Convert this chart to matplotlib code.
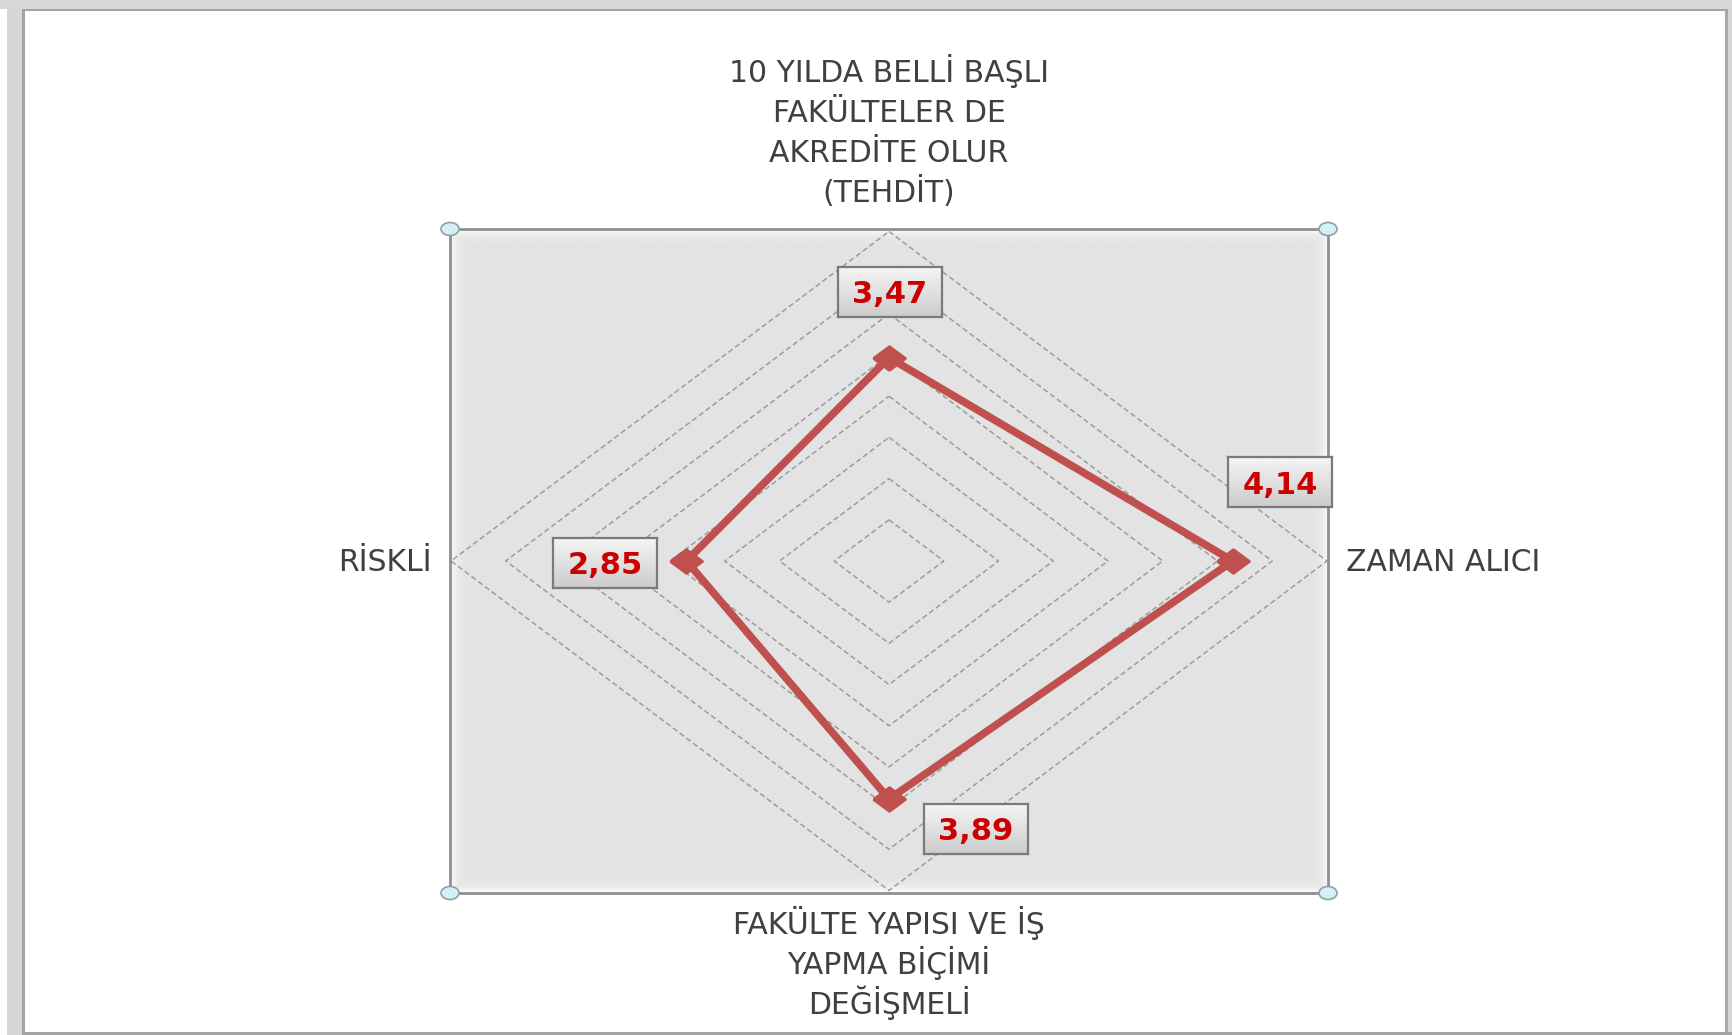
import numpy as np
import matplotlib
matplotlib.use("Agg")
import matplotlib.pyplot as plt
from matplotlib.patches import Rectangle, Ellipse

# chart data
categories = ["10 YILDA BELLİ BAŞLI\nFAKÜLTELER DE\nAKREDİTE OLUR\n(TEHDİT)",
              "ZAMAN ALICI",
              "FAKÜLTE YAPISI VE İŞ\nYAPMA BİÇİMİ\nDEĞİŞMELİ",
              "RİSKLİ"]
values = [3.47, 4.14, 3.89, 2.85]
value_labels = ["3,47", "4,14", "3,89", "2,85"]
r_min, r_max, r_step = 1.0, 5.0, 0.5

W, H = 1732, 1035
fig = plt.figure(figsize=(W / 100, H / 100), dpi=100)
fig.patch.set_facecolor("white")

def fx(x):
    return x / W

def fy(y):
    # y measured from the top of the image
    return 1 - y / H

# window frame around the chart object
fig.add_artist(Rectangle((fx(7), 0), fx(15), 1, transform=fig.transFigure,
                         facecolor="#d6d6d6", edgecolor="none", zorder=0))
fig.add_artist(Rectangle((fx(22), 0), fx(3), 1, transform=fig.transFigure,
                         facecolor="#a3a3a3", edgecolor="none", zorder=0))
fig.add_artist(Rectangle((0, fy(9)), 1, fy(0) - fy(9), transform=fig.transFigure,
                         facecolor="#d8d8d8", edgecolor="none", zorder=0))
fig.add_artist(Rectangle((fx(22), fy(11)), 1, fy(9) - fy(11), transform=fig.transFigure,
                         facecolor="#a3a3a3", edgecolor="none", zorder=0))
fig.add_artist(Rectangle((fx(1725), 0), fx(3), fy(9), transform=fig.transFigure,
                         facecolor="#a8a8a8", edgecolor="none", zorder=0))
fig.add_artist(Rectangle((fx(1728), 0), fx(4), fy(9), transform=fig.transFigure,
                         facecolor="#d6d6d6", edgecolor="none", zorder=0))
fig.add_artist(Rectangle((fx(22), 0), 1, fy(1032), transform=fig.transFigure,
                         facecolor="#a3a3a3", edgecolor="none", zorder=0))

# plot area
x0, y0, x1, y1 = 450, 229, 1328, 893
ax = fig.add_axes([fx(x0), fy(y1), fx(x1 - x0), fy(y0) - fy(y1)])
ax.set_facecolor("#e3e3e3")

# soft white glow along the plot area edges
pw, ph = x1 - x0, y1 - y0
gx = np.arange(pw)
gy = np.arange(ph)
dx = np.minimum(gx, pw - 1 - gx)[None, :]
dy = np.minimum(gy, ph - 1 - gy)[:, None]
d = np.minimum(dx, dy)
glow = 0.89 + 0.11 * np.exp(-d / 5.0)
ax.imshow(glow, cmap="gray", vmin=0, vmax=1, extent=[0, 1, 0, 1],
          transform=ax.transAxes, aspect="auto", zorder=0, interpolation="bilinear")

span = r_max - r_min
ax.set_xlim(-span * 439 / 438, span * 439 / 438)
ax.set_ylim(-span * 332 / 329.5, span * 332 / 329.5)
ax.set_xticks([])
ax.set_yticks([])
for s in ax.spines.values():
    s.set_color("#8f8f8f")
    s.set_linewidth(2)

# axis directions: top, right, bottom, left (clockwise)
angles = np.pi / 2 - np.arange(len(categories)) * 2 * np.pi / len(categories)

# dashed diamond grid
for level in np.arange(r_min + r_step, r_max + 0.001, r_step):
    rr = level - r_min
    gxs = np.append(rr * np.cos(angles), rr * np.cos(angles[0]))
    gys = np.append(rr * np.sin(angles), rr * np.sin(angles[0]))
    ax.plot(gxs, gys, color="#9c9c9c", lw=1.1, ls=(0, (3.5, 2)), zorder=1)

# series
rv = np.array(values) - r_min
px = rv * np.cos(angles)
py = rv * np.sin(angles)
diamond = [(-1.35, 0), (0, 1), (1.35, 0), (0, -1), (-1.35, 0)]
ax.plot(np.append(px, px[0]), np.append(py, py[0]), color="#c0504d", lw=5.5,
        solid_joinstyle="round", zorder=3)
ax.plot(px, py, ls="none", marker=diamond, markersize=23, color="#c0504d",
        markeredgewidth=2, zorder=4)

# corner handles of the selected plot area
for cx, cy in [(0, 0), (1, 0), (0, 1), (1, 1)]:
    ax.add_patch(Ellipse((cx, cy), 18 / pw, 13 / ph, transform=ax.transAxes,
                         facecolor="#d6eff4", edgecolor="#8aa0a8", lw=1.2,
                         clip_on=False, zorder=6))

# category labels, one text per line so the line pitch is even (40 px)
pitch = 40
rr = span
for i, cat in enumerate(categories):
    lines = cat.split("\n")
    n = len(lines)
    vx, vy = rr * np.cos(angles[i]), rr * np.sin(angles[i])
    for k, line in enumerate(lines):
        if i == 0:      # above the top vertex, last baseline 30 px up
            off, ha = (0, 30 + (n - 1 - k) * pitch), "center"
        elif i == 2:    # below the bottom vertex, first baseline 43 px down
            off, ha = (0, -43 - k * pitch), "center"
        elif i == 1:
            off, ha = (19, -10), "left"
        else:
            off, ha = (-19, -10), "right"
        ax.annotate(line, xy=(vx, vy), xytext=off, textcoords="offset pixels",
                    ha=ha, va="baseline", fontsize=21.5, color="#404040",
                    annotation_clip=False)

# data label boxes
box_offsets = [(1, 66), (47, 79), (86.5, -29.5), (-81.5, -2)]
bw, bh = 104, 50
grad = np.linspace(0.96, 0.80, 50)[:, None]
for i in range(len(values)):
    mx, my = ax.transData.transform((px[i], py[i]))
    cx = mx + box_offsets[i][0]
    cy = my + box_offsets[i][1]
    bax = fig.add_axes([(cx - bw / 2) / W, (cy - bh / 2) / H, bw / W, bh / H])
    bax.imshow(grad, cmap="gray", vmin=0, vmax=1, aspect="auto",
               extent=[0, 1, 0, 1], interpolation="bilinear")
    bax.set_xlim(0, 1)
    bax.set_ylim(0, 1)
    bax.set_xticks([])
    bax.set_yticks([])
    for s in bax.spines.values():
        s.set_color("#7a7a7a")
        s.set_linewidth(1.6)
    bax.text(0.5, 0.5, value_labels[i], ha="center", va="center_baseline",
             fontsize=22, fontweight="bold", color="#cc0000")

fig.savefig("out.png", dpi=100, facecolor="white")
